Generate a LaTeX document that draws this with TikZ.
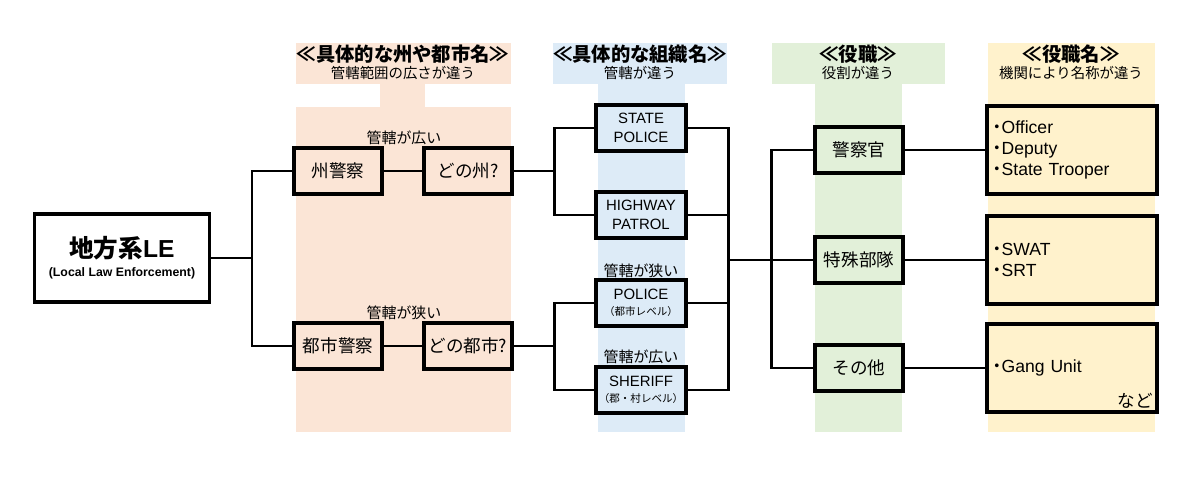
\documentclass[tikz,border=0pt]{standalone}
\usepackage{fontspec}
\setmainfont{Liberation Sans}
\newfontfamily\jp{Noto Sans CJK JP}
\usetikzlibrary{positioning,calc}

\definecolor{areaA}{HTML}{FBE5D6}
\definecolor{areaB}{HTML}{DDEBF7}
\definecolor{areaC}{HTML}{E2F0D9}
\definecolor{areaD}{HTML}{FFF2CC}

\newcommand{\listdot}{\makebox[.55em]{\jp ・}}

\begin{document}
\begin{tikzpicture}[x=0.02cm,y=-0.02cm]

  \tikzset{
    box/.style={draw,line width=2pt,inner sep=1pt,minimum width=1.76cm,
      minimum height=0.92cm,align=center},
    wide/.style={box,minimum width=3.4cm,minimum height=1.76cm,
      text width=3.2cm,inner xsep=0.1cm,align=left,
      font=\fontsize{10}{12}\selectfont},
    link/.style={line width=1.7pt},
    jbox/.style={font=\jp\fontsize{10}{12}\selectfont},
    ebox/.style={font=\fontsize{8.5}{10.8}\selectfont},
    htitle/.style={font=\jp\bfseries\fontsize{11}{13}\selectfont,inner sep=0pt},
    hsub/.style={font=\jp\fontsize{8.2}{10}\selectfont,inner sep=0pt},
    note/.style={font=\jp\fontsize{8.5}{10}\selectfont,inner sep=0pt},
  }

  \useasboundingbox (0,0) rectangle (1200,490);

  % bands
  \fill[areaA] (296,43) rectangle (511,84);
  \fill[areaA] (380,84) rectangle (425,107);
  \fill[areaA] (296,107) rectangle (511,432);
  \fill[areaB] (553,43) rectangle (727,84);
  \fill[areaB] (598,84) rectangle (685,432);
  \fill[areaC] (772,43) rectangle (945,84);
  \fill[areaC] (815,84) rectangle (902,432);
  \fill[areaD] (988,43) rectangle (1155,432);

  % headers
  \node[htitle] (t1) at (403,54) {≪具体的な州や都市名≫};
  \node[hsub] (s1) at (403,73) {管轄範囲の広さが違う};
  \node[htitle] (t2) at (640,54) {≪具体的な組織名≫};
  \node[hsub] (s2) at (640,73) {管轄が違う};
  \node[htitle] (t3) at (858,54) {≪役職≫};
  \node[hsub] (s3) at (858,73) {役割が違う};
  \node[htitle] (t4) at (1071,54) {≪役職名≫};
  \node[hsub] (s4) at (1071,73) {機関により名称が違う};

  % root
  \node[box,minimum width=3.5cm,minimum height=1.76cm,fill=white,
    font=\bfseries] (root) at (122,258)
    {{\fontsize{14}{16}\selectfont{\jp 地方系}LE}\\[-1pt]
     {\fontsize{7}{8}\selectfont (Local Law Enforcement)}};

  % states / cities
  \node[box,jbox,fill=areaA] (shu) at (338,171) {州警察};
  \node[box,jbox,fill=areaA] (donoshu) at (468,171) {どの州?};
  \node[box,jbox,fill=areaA] (toshi) at (338,346) {都市警察};
  \node[box,jbox,fill=areaA] (donotoshi) at (468,346) {どの都市?};
  \node[note] (wide1) at (404,138) {管轄が広い};
  \node[note] (narrow1) at (404,313) {管轄が狭い};

  % agencies
  \node[box,ebox,fill=areaB,minimum width=1.8cm] (state) at (641,128) {STATE\\POLICE};
  \node[box,ebox,fill=areaB,minimum width=1.8cm] (highway) at (641,215) {HIGHWAY\\PATROL};
  \node[box,ebox,fill=areaB,minimum width=1.8cm] (police) at (641,303)
    {POLICE\\[-2pt]{\jp\fontsize{6}{7}\selectfont （都市レベル）}};
  \node[box,ebox,fill=areaB,minimum width=1.8cm] (sheriff) at (641,390)
    {SHERIFF\\[-2pt]{\jp\fontsize{6}{7}\selectfont （郡・村レベル）}};
  \node[note] (narrow2) at (641,271) {管轄が狭い};
  \node[note] (wide2) at (641,357) {管轄が広い};

  % roles
  \node[box,jbox,fill=areaC] (keisatsu) at (859,150) {警察官};
  \node[box,jbox,fill=areaC] (tokushu) at (859,260) {特殊部隊};
  \node[box,jbox,fill=areaC] (sonota) at (859,368) {その他};

  % titles
  \node[wide,fill=areaD] (names1) at (1072,150)
    {\listdot Officer\\\listdot Deputy\\\listdot State Trooper};
  \node[wide,fill=areaD] (names2) at (1072,260)
    {\listdot SWAT\\\listdot SRT};
  \node[wide,fill=areaD] (names3) at (1072,368)
    {\listdot Gang Unit};
  \node[jbox,anchor=south east,inner sep=3pt] (nado) at (names3.south east) {など};

  % links
  \coordinate (b1) at (252,258);
  \coordinate (b2) at (554,171);
  \coordinate (b3) at (554,346);
  \coordinate (b4) at (728,260);
  \coordinate (b5) at (771,260);

  \draw[link] (root) -- (b1);
  \draw[link] (shu.west) -| (b1) |- (toshi.west);
  \draw[link] (shu) -- (donoshu);
  \draw[link] (toshi) -- (donotoshi);

  \draw[link] (donoshu) -- (b2);
  \draw[link] (state.west) -| (b2) |- (highway.west);
  \draw[link] (donotoshi) -- (b3);
  \draw[link] (police.west) -| (b3) |- (sheriff.west);

  \draw[link] (state.east) -| (b4) |- (sheriff.east);
  \draw[link] (highway.east) -- (highway.east -| b4);
  \draw[link] (police.east) -- (police.east -| b4);
  \draw[link] (b4) -- (b5);

  \draw[link] (keisatsu.west) -| (b5) |- (sonota.west);
  \draw[link] (b5) -- (tokushu);

  \draw[link] (keisatsu) -- (names1);
  \draw[link] (tokushu) -- (names2);
  \draw[link] (sonota) -- (names3);

\end{tikzpicture}
\end{document}
